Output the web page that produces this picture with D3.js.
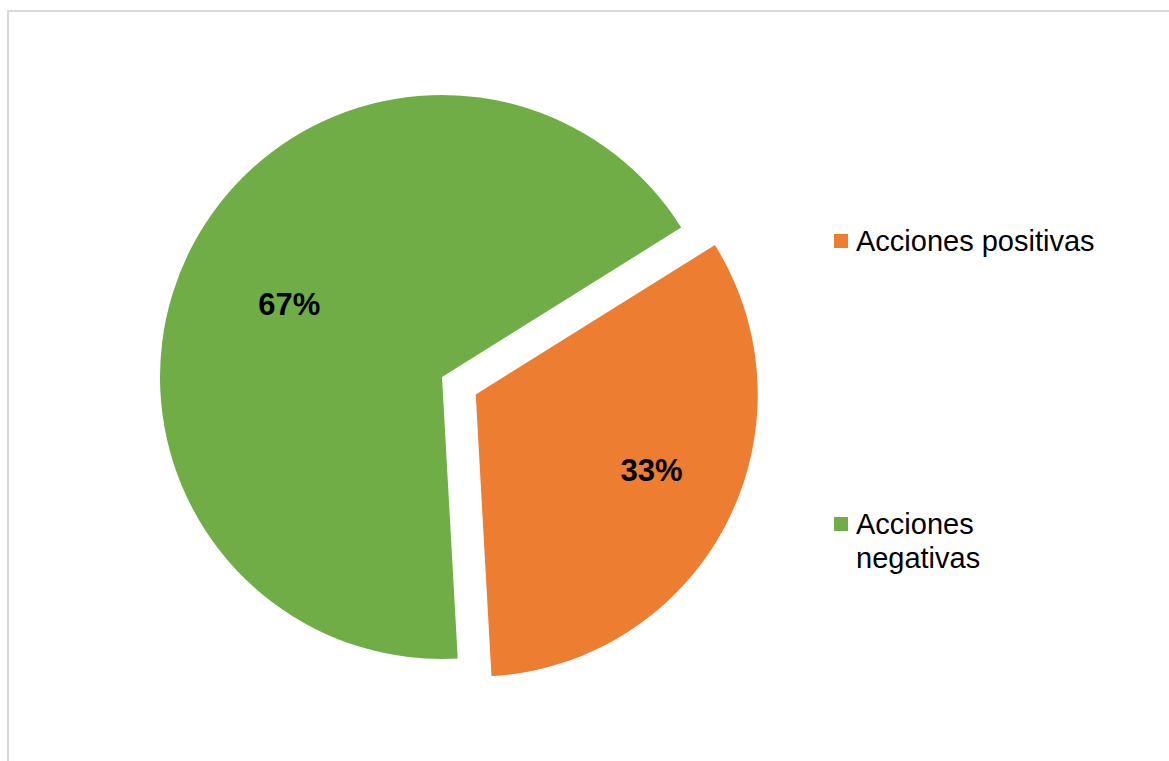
<!DOCTYPE html>
<html>
<head>
<meta charset="utf-8">
<script src="https://cdn.jsdelivr.net/npm/d3@7"></script>
<style>
  html, body { margin: 0; padding: 0; background: #fff; }
  svg { display: block; }
</style>
</head>
<body>
<svg id="chart" width="1169" height="761"></svg>
<script>
// Slices of the pie, in drawing order (clockwise from the start angle)
const categories = ["Acciones positivas", "Acciones negativas"];
const values = [33, 67];
const valueLabels = ["33%", "67%"];
const colors = ["#ED7D31", "#70AD47"];
// Legend lines (the second entry wraps onto two lines)
const legendLines = [["Acciones positivas"], ["Acciones", "negativas"]];

const svg = d3.select("#chart");

// Chart area frame
svg.append("rect")
  .attr("x", 8).attr("y", 11)
  .attr("width", 1300).attr("height", 900)
  .attr("fill", "none")
  .attr("stroke", "#d9d9d9")
  .attr("stroke-width", 2);

const cx = 442, cy = 377, radius = 282;
const explode = 38;          // offset of the first slice
const labelRadius = 180;
// small per-slice label nudges (x, y) for the data labels
const labelNudge = [[16, -7], [7, 10]];

const pie = d3.pie()
  .sort(null)
  .value(d => d)
  .startAngle(58 * Math.PI / 180)
  .endAngle((58 + 360) * Math.PI / 180);

const arcs = pie(values);
const arc = d3.arc().innerRadius(0).outerRadius(radius);
const labelArc = d3.arc().innerRadius(labelRadius).outerRadius(labelRadius);

const g = svg.append("g").attr("transform", `translate(${cx},${cy})`);

const slice = g.selectAll("g.slice")
  .data(arcs)
  .join("g")
  .attr("class", "slice")
  .attr("transform", (d, i) => {
    if (i !== 0) return null;
    const mid = (d.startAngle + d.endAngle) / 2;
    return `translate(${explode * Math.sin(mid)},${-explode * Math.cos(mid)})`;
  });

slice.append("path")
  .attr("d", arc)
  .attr("fill", (d, i) => colors[i]);

slice.append("text")
  .attr("transform", (d, i) => {
    const [x, y] = labelArc.centroid(d);
    return `translate(${x + labelNudge[i][0]},${y + labelNudge[i][1]})`;
  })
  .attr("text-anchor", "middle")
  .attr("dy", "0.36em")
  .attr("font-family", "'Liberation Sans', Arial, sans-serif")
  .attr("font-weight", "bold")
  .attr("font-size", 31)
  .attr("fill", "#000")
  .text((d, i) => valueLabels[i]);

// Legend
const legendY = [241, 524];
const legend = svg.append("g");
categories.forEach((c, i) => {
  const item = legend.append("g").attr("transform", `translate(834,${legendY[i]})`);
  item.append("rect")
    .attr("x", 0).attr("y", -7)
    .attr("width", 14).attr("height", 14)
    .attr("fill", colors[i]);
  const t = item.append("text")
    .attr("x", 22).attr("y", 0)
    .attr("font-family", "'Liberation Sans', Arial, sans-serif")
    .attr("font-size", 29)
    .attr("fill", "#000");
  legendLines[i].forEach((line, j) => {
    t.append("tspan")
      .attr("x", 22)
      .attr("dy", j === 0 ? "0.36em" : 34)
      .text(line);
  });
});
</script>
</body>
</html>
